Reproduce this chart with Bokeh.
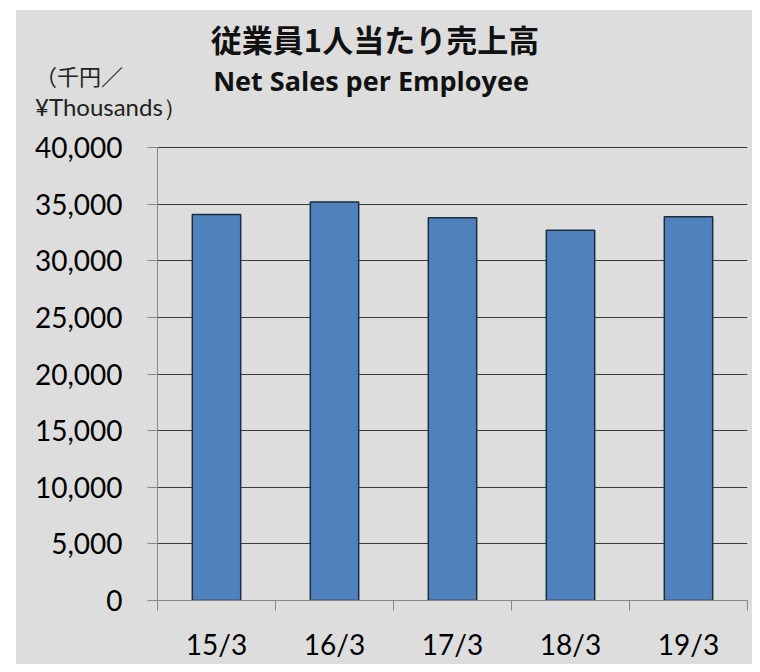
from bokeh.plotting import figure
from bokeh.layouts import column
from bokeh.models import (Range1d, FixedTicker, NumeralTickFormatter,
                          CustomJSTickFormatter, Div, ColumnDataSource)
from bokeh.embed import file_html
from bokeh.resources import INLINE
import numpy as np

categories = ["15/3", "16/3", "17/3", "18/3", "19/3"]
values = [34100, 35200, 33800, 32700, 33900]
y_ticks = [0, 5000, 10000, 15000, 20000, 25000, 30000, 35000, 40000]

title_jp = "従業員1人当たり売上高"
title_en = "Net Sales per Employee"
unit_line1 = "（千円／"
unit_line2 = "¥Thousands）"

BG = "#dddddd"
ML, MT = 16, 10          # white strip left / top
W = 752 - ML
HEAD = 110
n = len(categories)
centers = np.arange(n) + 0.5

src = ColumnDataSource(dict(x=centers, top=values, cat=categories))

p = figure(width=W, height=544, output_backend="svg", toolbar_location=None,
           x_range=Range1d(0, n), y_range=Range1d(0, y_ticks[-1] * 1.0025),
           min_border_left=157 - ML, min_border_right=5, min_border_top=26,
           min_border_bottom=64)
p.background_fill_color = BG
p.border_fill_color = BG
p.outline_line_color = None
p.margin = 0

p.vbar(x="x", top="top", width=0.41, bottom=0, source=src,
       fill_color="#4f81bd", line_color="#1f2d3d", line_width=1.5)

# x axis: labels at category centres, tick marks between categories
p.xaxis.ticker = FixedTicker(ticks=list(centers), minor_ticks=list(range(n + 1)))
p.xaxis.formatter = CustomJSTickFormatter(args=dict(labels=categories),
                                          code="return labels[Math.floor(tick)] || '';")
p.xaxis.major_tick_out = 0
p.xaxis.major_tick_in = 0
p.xaxis.minor_tick_out = 10
p.xaxis.minor_tick_in = 0
p.xaxis.axis_line_color = "#868686"
p.xaxis.minor_tick_line_color = "#868686"
p.xaxis.major_label_text_font = "Lato"
p.xaxis.major_label_text_font_size = "28px"
p.xaxis.major_label_text_color = "black"
p.xaxis.major_label_standoff = 16
p.xgrid.visible = False

# y axis
p.yaxis.ticker = FixedTicker(ticks=y_ticks)
p.yaxis.formatter = NumeralTickFormatter(format="0,0")
p.yaxis.bounds = (y_ticks[0], y_ticks[-1])
p.yaxis.major_tick_out = 10
p.yaxis.major_tick_in = 0
p.yaxis.minor_tick_line_color = None
p.yaxis.axis_line_color = "#868686"
p.yaxis.major_tick_line_color = "#868686"
p.yaxis.major_label_text_font = "Lato"
p.yaxis.major_label_text_font_size = "28px"
p.yaxis.major_label_text_color = "black"
p.yaxis.major_label_standoff = 25
p.ygrid.ticker = FixedTicker(ticks=y_ticks[1:])
p.ygrid.grid_line_color = "#3a3a3a"
p.ygrid.grid_line_width = 1.2

def span(text, left, top, font, size, weight="normal", center=False, color="#111"):
    tx = "-50%" if center else "0"
    return (f'<span style="position:absolute;left:{left - ML}px;top:{top - MT}px;'
            f'transform:translate({tx},-50%);white-space:nowrap;line-height:1;'
            f'font-family:\'{font}\';font-size:{size}px;font-weight:{weight};'
            f'color:{color};">{text}</span>')

html = (f'<div style="position:relative;width:{W}px;height:{HEAD}px;'
        f'background:{BG};margin:0;padding:0;">'
        + span(title_jp, 375, 38, "Noto Sans CJK JP", 31, "bold", True)
        + span(title_en, 371, 80, "Open Sans", 27, "bold", True)
        + span(unit_line1, 35, 75, "Noto Sans CJK JP", 22, color="#222")
        + span(unit_line2, 35, 107, "Lato", 24, color="#222")
        + '</div>')

head = Div(text=html, width=W, height=HEAD, margin=0,
           styles={"background-color": BG})

layout = column(head, p, spacing=0, margin=(MT, 0, 0, ML),
                styles={"background-color": BG})

open("out.html", "w").write(file_html(layout, INLINE))
